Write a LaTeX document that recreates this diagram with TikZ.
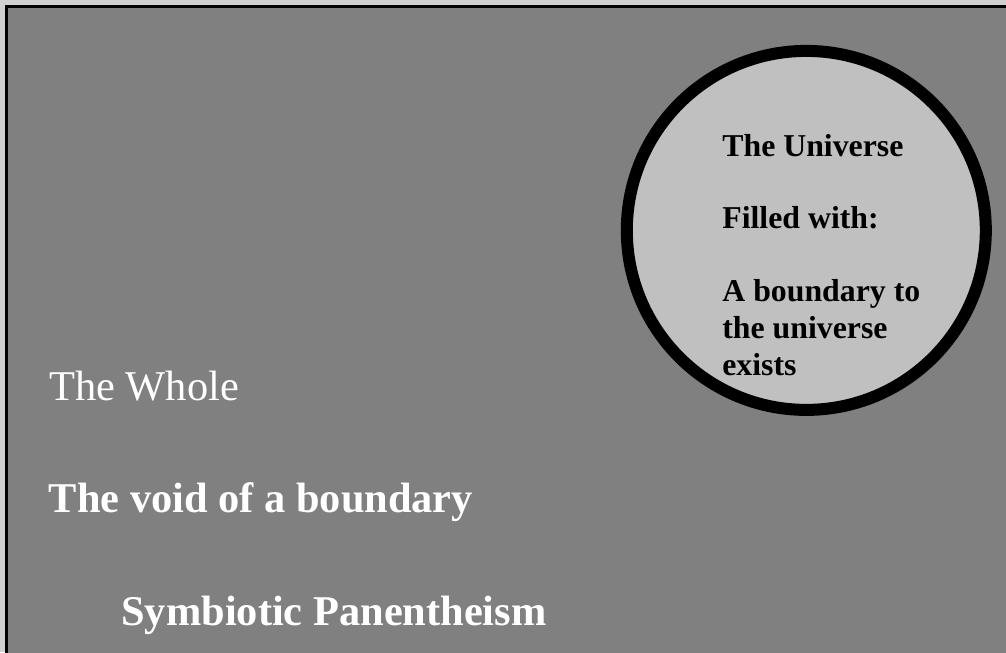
\documentclass[tikz,border=0pt]{standalone}
\usepackage{fontspec}
\setmainfont{Liberation Serif}
\definecolor{bggray}{HTML}{808080}
\definecolor{silverfill}{HTML}{C0C0C0}
\definecolor{margingray}{HTML}{D0D0D0}
\begin{document}
\begin{tikzpicture}[x=0.566pt,y=-0.566pt,
  lefttxt/.style={inner sep=0pt, anchor=base west, text=white, font=\fontsize{24}{28}\selectfont},
  intxt/.style={inner sep=0pt, anchor=base west, text=black, font=\fontsize{18}{20.77}\selectfont\bfseries}]
\useasboundingbox (0,0) rectangle (1006,652);
\fill[margingray] (0,0) rectangle (1006,652);
\draw[line width=1.7pt, fill=bggray] (6.5,6.5) rectangle (1030,680);
\node[draw, circle, line width=6.8pt, fill=silverfill, inner sep=0pt,
      minimum size=359*0.566pt] (universe) at (806.3,230.4) {};
\node[lefttxt] (t1) at (49,400) {The Whole};
\node[lefttxt, font=\fontsize{24}{28}\selectfont\bfseries] (t2) at (48.5,512.6) {The void of a boundary};
\node[lefttxt, font=\fontsize{24}{28}\selectfont\bfseries] (t3) at (121,625) {Symbiotic Panentheism};
\node[intxt] (u1) at (722,156.7) {The Universe};
\node[intxt] (u2) at (722,228.3) {Filled with:};
\node[intxt] (u3) at (722,301.7) {A boundary to};
\node[intxt] (u4) at (722,338.3) {the universe};
\node[intxt] (u5) at (722,375) {exists};
\end{tikzpicture}
\end{document}
